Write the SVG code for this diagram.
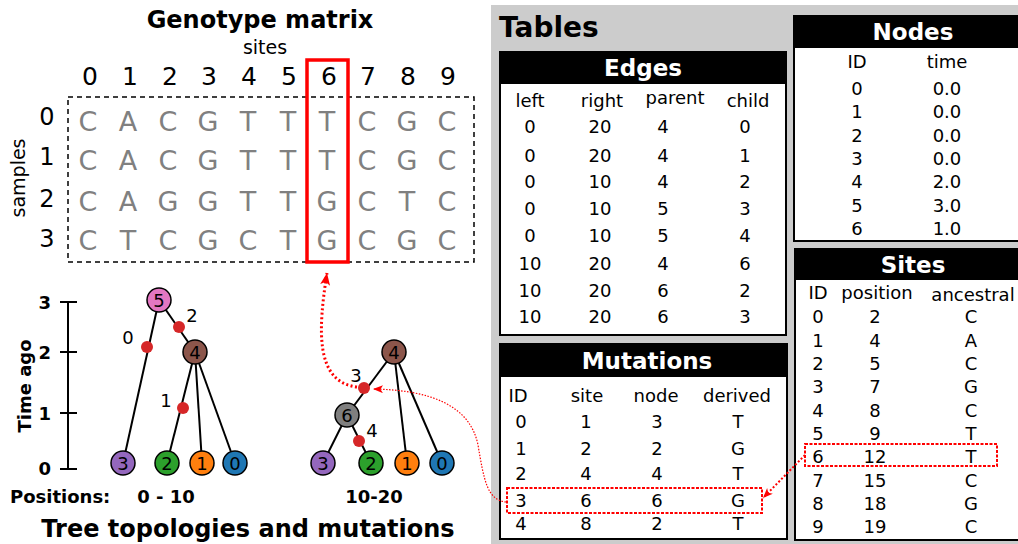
<svg xmlns="http://www.w3.org/2000/svg" width="1018" height="544" viewBox="0 0 1018 544">
<style>
text{font-family:"DejaVu Sans","Liberation Sans",sans-serif;fill:#000}
.b{font-weight:bold}
.t{font-size:24px;font-weight:bold;text-anchor:middle}
.th{font-size:23px;font-weight:bold;fill:#fff;text-anchor:middle}
.c{font-size:18px;text-anchor:middle}
.g{font-size:27px;fill:#808080;text-anchor:middle}
.sn{font-size:25px;text-anchor:middle}
.rl{font-size:24px;text-anchor:middle}
.tick{font-size:18px;font-weight:bold;text-anchor:end}
.nl{font-size:18px;text-anchor:middle}
.edge{stroke:#000;stroke-width:2;fill:none}
.node{stroke:#000;stroke-width:1.5}
.mut{fill:#d62728}
.tbl{fill:#fff;stroke:#000;stroke-width:2}
.hdr{fill:#000}
.rd{fill:none;stroke:#ff0000;stroke-dasharray:3 1.5;stroke-width:2}
</style>
<defs>
<marker id="ah" markerUnits="userSpaceOnUse" markerWidth="14" markerHeight="12" refX="12" refY="5" orient="auto">
<path d="M0,0 L12,5 L0,10 L3,5 z" fill="#ff0000"/>
</marker>
<marker id="ahs" markerUnits="userSpaceOnUse" markerWidth="12" markerHeight="10" refX="10" refY="4" orient="auto">
<path d="M0,0 L10,4 L0,8 L2.5,4 z" fill="#ff0000"/>
</marker>
</defs>
<rect width="1018" height="544" fill="#fff"/>

<!-- Tables panel -->
<rect x="491" y="5" width="527" height="539" fill="#cccccc"/>
<text class="b" x="499" y="37" style="font-size:28px">Tables</text>

<g id="edges-table">
<rect class="tbl" x="500" y="52" width="286" height="283"/>
<rect class="hdr" x="500" y="52" width="286" height="32"/>
<text class="th" x="643" y="76">Edges</text>
<text class="c" x="530" y="107">left</text><text class="c" x="602" y="107">right</text><text class="c" x="675" y="104">parent</text><text class="c" x="748" y="107">child</text>
<text class="c" x="530" y="133">0</text><text class="c" x="600" y="133">20</text><text class="c" x="663" y="133">4</text><text class="c" x="745" y="133">0</text>
<text class="c" x="530" y="162">0</text><text class="c" x="600" y="162">20</text><text class="c" x="663" y="162">4</text><text class="c" x="745" y="162">1</text>
<text class="c" x="530" y="188">0</text><text class="c" x="600" y="188">10</text><text class="c" x="663" y="188">4</text><text class="c" x="745" y="188">2</text>
<text class="c" x="530" y="215">0</text><text class="c" x="600" y="215">10</text><text class="c" x="663" y="215">5</text><text class="c" x="745" y="215">3</text>
<text class="c" x="530" y="242">0</text><text class="c" x="600" y="242">10</text><text class="c" x="663" y="242">5</text><text class="c" x="745" y="242">4</text>
<text class="c" x="530" y="270">10</text><text class="c" x="600" y="270">20</text><text class="c" x="663" y="270">4</text><text class="c" x="745" y="270">6</text>
<text class="c" x="530" y="297">10</text><text class="c" x="600" y="297">20</text><text class="c" x="663" y="297">6</text><text class="c" x="745" y="297">2</text>
<text class="c" x="530" y="323">10</text><text class="c" x="600" y="323">20</text><text class="c" x="663" y="323">6</text><text class="c" x="745" y="323">3</text>
</g>

<g id="mutations-table">
<rect class="tbl" x="500" y="344" width="287" height="195"/>
<rect class="hdr" x="500" y="344" width="287" height="33"/>
<text class="th" x="647" y="369">Mutations</text>
<text class="c" x="518" y="402">ID</text><text class="c" x="587" y="402">site</text><text class="c" x="656" y="402">node</text><text class="c" x="737" y="402">derived</text>
<text class="c" x="521" y="428">0</text><text class="c" x="586" y="428">1</text><text class="c" x="657" y="428">3</text><text class="c" x="738" y="428">T</text>
<text class="c" x="521" y="455">1</text><text class="c" x="586" y="455">2</text><text class="c" x="657" y="455">2</text><text class="c" x="738" y="455">G</text>
<text class="c" x="521" y="480">2</text><text class="c" x="586" y="480">4</text><text class="c" x="657" y="480">4</text><text class="c" x="738" y="480">T</text>
<text class="c" x="521" y="507">3</text><text class="c" x="586" y="507">6</text><text class="c" x="657" y="507">6</text><text class="c" x="738" y="507">G</text>
<text class="c" x="521" y="530">4</text><text class="c" x="586" y="530">8</text><text class="c" x="657" y="530">2</text><text class="c" x="738" y="530">T</text>
<rect class="rd" x="507" y="488" width="255" height="25"/>
</g>

<g id="nodes-table">
<rect class="tbl" x="794" y="16" width="232" height="225"/>
<rect class="hdr" x="794" y="16" width="232" height="32"/>
<text class="th" x="913" y="40">Nodes</text>
<text class="c" x="857" y="68">ID</text><text class="c" x="947" y="68">time</text>
<text class="c" x="857" y="95">0</text><text class="c" x="947" y="95">0.0</text>
<text class="c" x="857" y="118">1</text><text class="c" x="947" y="118">0.0</text>
<text class="c" x="857" y="142">2</text><text class="c" x="947" y="142">0.0</text>
<text class="c" x="857" y="165">3</text><text class="c" x="947" y="165">0.0</text>
<text class="c" x="857" y="188">4</text><text class="c" x="947" y="188">2.0</text>
<text class="c" x="857" y="212">5</text><text class="c" x="947" y="212">3.0</text>
<text class="c" x="857" y="235">6</text><text class="c" x="947" y="235">1.0</text>
</g>

<g id="sites-table">
<rect class="tbl" x="795" y="249" width="232" height="291"/>
<rect class="hdr" x="795" y="249" width="232" height="31"/>
<text class="th" x="913" y="273">Sites</text>
<text class="c" x="818" y="299">ID</text><text class="c" x="877" y="299">position</text><text class="c" x="973" y="301">ancestral</text>
<text class="c" x="818" y="323">0</text><text class="c" x="875" y="323">2</text><text class="c" x="971" y="323">C</text>
<text class="c" x="818" y="347">1</text><text class="c" x="875" y="347">4</text><text class="c" x="971" y="347">A</text>
<text class="c" x="818" y="370">2</text><text class="c" x="875" y="370">5</text><text class="c" x="971" y="370">C</text>
<text class="c" x="818" y="393">3</text><text class="c" x="875" y="393">7</text><text class="c" x="971" y="393">G</text>
<text class="c" x="818" y="417">4</text><text class="c" x="875" y="417">8</text><text class="c" x="971" y="417">C</text>
<text class="c" x="818" y="440">5</text><text class="c" x="875" y="440">9</text><text class="c" x="971" y="440">T</text>
<text class="c" x="818" y="463">6</text><text class="c" x="875" y="463">12</text><text class="c" x="971" y="463">T</text>
<text class="c" x="818" y="487">7</text><text class="c" x="875" y="487">15</text><text class="c" x="971" y="487">C</text>
<text class="c" x="818" y="510">8</text><text class="c" x="875" y="510">18</text><text class="c" x="971" y="510">G</text>
<text class="c" x="818" y="533">9</text><text class="c" x="875" y="533">19</text><text class="c" x="971" y="533">C</text>
<rect class="rd" x="805" y="444" width="192" height="22"/>
</g>

<!-- Genotype matrix -->
<g id="genotype">
<text class="t" x="260" y="28">Genotype matrix</text>
<text x="265" y="54" style="font-size:19px;text-anchor:middle">sites</text>
<text x="25" y="178" transform="rotate(-90 25 178)" style="font-size:19px;text-anchor:middle">samples</text>
<g>
<text class="sn" x="90" y="85">0</text><text class="sn" x="130" y="85">1</text><text class="sn" x="170" y="85">2</text><text class="sn" x="209" y="85">3</text><text class="sn" x="249" y="85">4</text><text class="sn" x="289" y="85">5</text><text class="sn" x="329" y="85">6</text><text class="sn" x="368" y="85">7</text><text class="sn" x="408" y="85">8</text><text class="sn" x="448" y="85">9</text>
</g>
<g>
<text class="rl" x="47" y="125">0</text><text class="rl" x="47" y="165">1</text><text class="rl" x="47" y="207">2</text><text class="rl" x="47" y="247">3</text>
</g>
<rect x="68" y="97" width="406" height="165" fill="none" stroke="#000" stroke-width="1.5" stroke-dasharray="5 4"/>
<g>
<text class="g" x="88" y="131">C</text><text class="g" x="128" y="131">A</text><text class="g" x="168" y="131">C</text><text class="g" x="208" y="131">G</text><text class="g" x="248" y="131">T</text><text class="g" x="288" y="131">T</text><text class="g" x="327" y="131">T</text><text class="g" x="367" y="131">C</text><text class="g" x="407" y="131">G</text><text class="g" x="447" y="131">C</text>
<text class="g" x="88" y="170">C</text><text class="g" x="128" y="170">A</text><text class="g" x="168" y="170">C</text><text class="g" x="208" y="170">G</text><text class="g" x="248" y="170">T</text><text class="g" x="288" y="170">T</text><text class="g" x="327" y="170">T</text><text class="g" x="367" y="170">C</text><text class="g" x="407" y="170">G</text><text class="g" x="447" y="170">C</text>
<text class="g" x="88" y="211">C</text><text class="g" x="128" y="211">A</text><text class="g" x="168" y="211">G</text><text class="g" x="208" y="211">G</text><text class="g" x="248" y="211">T</text><text class="g" x="288" y="211">T</text><text class="g" x="327" y="211">G</text><text class="g" x="367" y="211">C</text><text class="g" x="407" y="211">T</text><text class="g" x="447" y="211">C</text>
<text class="g" x="88" y="250">C</text><text class="g" x="128" y="250">T</text><text class="g" x="168" y="250">C</text><text class="g" x="208" y="250">G</text><text class="g" x="248" y="250">C</text><text class="g" x="288" y="250">T</text><text class="g" x="327" y="250">G</text><text class="g" x="367" y="250">C</text><text class="g" x="407" y="250">G</text><text class="g" x="447" y="250">C</text>
</g>
<rect x="307" y="60" width="41" height="202" fill="none" stroke="#ff0000" stroke-width="3.5"/>
</g>

<!-- Time axis -->
<g id="axis">
<line x1="68" y1="302" x2="68" y2="469" stroke="#000" stroke-width="2"/>
<line x1="60" y1="302" x2="77" y2="302" stroke="#000" stroke-width="2"/>
<line x1="60" y1="352" x2="77" y2="352" stroke="#000" stroke-width="2"/>
<line x1="60" y1="413" x2="77" y2="413" stroke="#000" stroke-width="2"/>
<line x1="60" y1="469" x2="77" y2="469" stroke="#000" stroke-width="2"/>
<text class="tick" x="51" y="309">3</text>
<text class="tick" x="51" y="359">2</text>
<text class="tick" x="51" y="420">1</text>
<text class="tick" x="51" y="475">0</text>
<text class="b" x="31" y="386" transform="rotate(-90 31 386)" style="font-size:18px;text-anchor:middle">Time ago</text>
</g>

<!-- Connectors -->
<g id="connectors">
<g id="tree1-edges">
<line class="edge" x1="159" y1="300" x2="123" y2="463"/>
<line class="edge" x1="159" y1="300" x2="195" y2="352"/>
<line class="edge" x1="195" y1="352" x2="167" y2="463"/>
<line class="edge" x1="195" y1="352" x2="202" y2="463"/>
<line class="edge" x1="195" y1="352" x2="235" y2="463"/>
</g>
<g id="tree2-edges">
<line class="edge" x1="394" y1="352" x2="347" y2="415"/>
<line class="edge" x1="394" y1="352" x2="407" y2="463"/>
<line class="edge" x1="394" y1="352" x2="442" y2="463"/>
<line class="edge" x1="347" y1="415" x2="323" y2="463"/>
<line class="edge" x1="347" y1="415" x2="371" y2="463"/>
</g>
<path id="link-mut-matrix" d="M357 387 C315 382 318 330 327 273" fill="none" stroke="#ff0000" stroke-width="3" stroke-dasharray="2 2.5" marker-end="url(#ah)"/>
<path id="link-table-mut" d="M506 502 C487 500 484 480 478 445 C470 405 430 390 373 389" fill="none" stroke="#ff0000" stroke-width="1.2" stroke-dasharray="1.5 1.5" marker-end="url(#ahs)"/>
<path id="link-site-mut" d="M805 455 L763 498" fill="none" stroke="#ff0000" stroke-width="2" stroke-dasharray="2 2" marker-end="url(#ahs)"/>
</g>

<!-- Tree 1 -->
<g id="t1-mut0"><circle class="mut" cx="147" cy="347" r="6"/><text class="nl" x="128" y="344">0</text></g>
<g id="t1-mut2"><circle class="mut" cx="179" cy="327" r="6"/><text class="nl" x="192" y="322">2</text></g>
<g id="t1-mut1"><circle class="mut" cx="183" cy="408" r="6"/><text class="nl" x="166" y="407">1</text></g>
<g id="t1-n5"><circle class="node" cx="159" cy="300" r="12" fill="#e377c2"/><text class="nl" x="159" y="306.5">5</text></g>
<g id="t1-n4"><circle class="node" cx="195" cy="352" r="12" fill="#8c564b"/><text class="nl" x="195" y="358.5">4</text></g>
<g id="t1-n3"><circle class="node" cx="123" cy="463" r="12" fill="#9467bd"/><text class="nl" x="123" y="469.5">3</text></g>
<g id="t1-n2"><circle class="node" cx="167" cy="463" r="12" fill="#2ca02c"/><text class="nl" x="167" y="469.5">2</text></g>
<g id="t1-n1"><circle class="node" cx="202" cy="463" r="12" fill="#ff7f0e"/><text class="nl" x="202" y="469.5">1</text></g>
<g id="t1-n0"><circle class="node" cx="235" cy="463" r="12" fill="#1f77b4"/><text class="nl" x="235" y="469.5">0</text></g>

<!-- Tree 2 -->
<g id="t2-mut3"><circle class="mut" cx="364" cy="388" r="6"/><text class="nl" x="356" y="382">3</text></g>
<g id="t2-mut4"><circle class="mut" cx="359" cy="441" r="6"/><text class="nl" x="372" y="437">4</text></g>
<g id="t2-n4"><circle class="node" cx="394" cy="352" r="12" fill="#8c564b"/><text class="nl" x="394" y="358.5">4</text></g>
<g id="t2-n6"><circle class="node" cx="347" cy="415" r="12" fill="#7f7f7f"/><text class="nl" x="347" y="421.5">6</text></g>
<g id="t2-n3"><circle class="node" cx="323" cy="463" r="12" fill="#9467bd"/><text class="nl" x="323" y="469.5">3</text></g>
<g id="t2-n2"><circle class="node" cx="371" cy="463" r="12" fill="#2ca02c"/><text class="nl" x="371" y="469.5">2</text></g>
<g id="t2-n1"><circle class="node" cx="407" cy="463" r="12" fill="#ff7f0e"/><text class="nl" x="407" y="469.5">1</text></g>
<g id="t2-n0"><circle class="node" cx="442" cy="463" r="12" fill="#1f77b4"/><text class="nl" x="442" y="469.5">0</text></g>

<g id="positions">
<text class="b" x="10" y="503" style="font-size:18px">Positions:</text>
<text class="b" x="166" y="503" style="font-size:18px;text-anchor:middle">0 - 10</text>
<text class="b" x="374" y="503" style="font-size:18px;text-anchor:middle">10-20</text>
</g>
<text class="t" x="248" y="537">Tree topologies and mutations</text>
</svg>
